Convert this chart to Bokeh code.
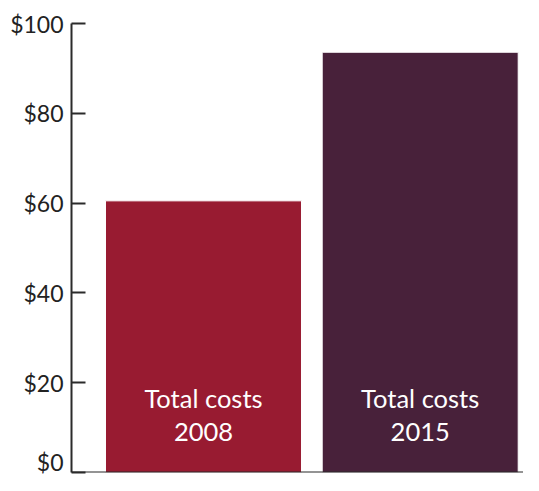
from bokeh.plotting import figure
from bokeh.models import ColumnDataSource, FixedTicker, Span, Range1d
from bokeh.core.properties import value
from bokeh.embed import file_html
from bokeh.resources import INLINE

# ---- data ----
categories = ["Total costs\n2008", "Total costs\n2015"]
costs = [60.5, 93.6]
bar_colors = ["#981B31", "#48213A"]
tick_values = [0, 20, 40, 60, 80, 100]
tick_labels = ["$0", "$20", "$40", "$60", "$80", "$100"]

# ---- layout constants ----
label_y = 12.9

src = ColumnDataSource(data=dict(
    x=list(range(len(categories))),
    top=costs,
    color=bar_colors,
    label=categories,
    ly=[label_y] * len(categories),
))

p = figure(width=523, height=475, output_backend="svg", toolbar_location=None,
           x_range=Range1d(-0.6091, 1.4767), y_range=Range1d(0, 100),
           min_border_left=71, min_border_right=0, min_border_top=23,
           min_border_bottom=3)

p.vbar(x="x", top="top", bottom=0, width=0.9045, source=src,
       fill_color="color", line_color="white", line_width=1)

p.text(x="x", y="ly", text="label", source=src, text_color="white",
       text_font=value("Lato"), text_font_size="25.5px", text_align="center",
       text_baseline="middle", text_line_height=1.1)

# axes / styling
p.xaxis.visible = False
p.xgrid.visible = False
p.ygrid.visible = False
p.outline_line_color = None
p.background_fill_color = "white"
p.border_fill_color = "white"

ya = p.yaxis[0]
ya.ticker = FixedTicker(ticks=tick_values)
ya.major_label_overrides = {v: l for v, l in zip(tick_values, tick_labels)}
ya.axis_line_color = "#2b2b2b"
ya.axis_line_width = 2
ya.major_tick_line_color = "#2b2b2b"
ya.major_tick_line_width = 2
ya.major_tick_in = 14
ya.major_tick_out = 0
ya.minor_tick_line_color = None
ya.major_label_standoff = 8
ya.major_label_text_font = "Lato"
ya.major_label_text_font_size = "23px"
ya.major_label_text_color = "#222222"

baseline = Span(location=0, dimension="width", line_color="#2b2b2b", line_width=2)
p.add_layout(baseline)

open("out.html", "w").write(file_html(p, INLINE))
